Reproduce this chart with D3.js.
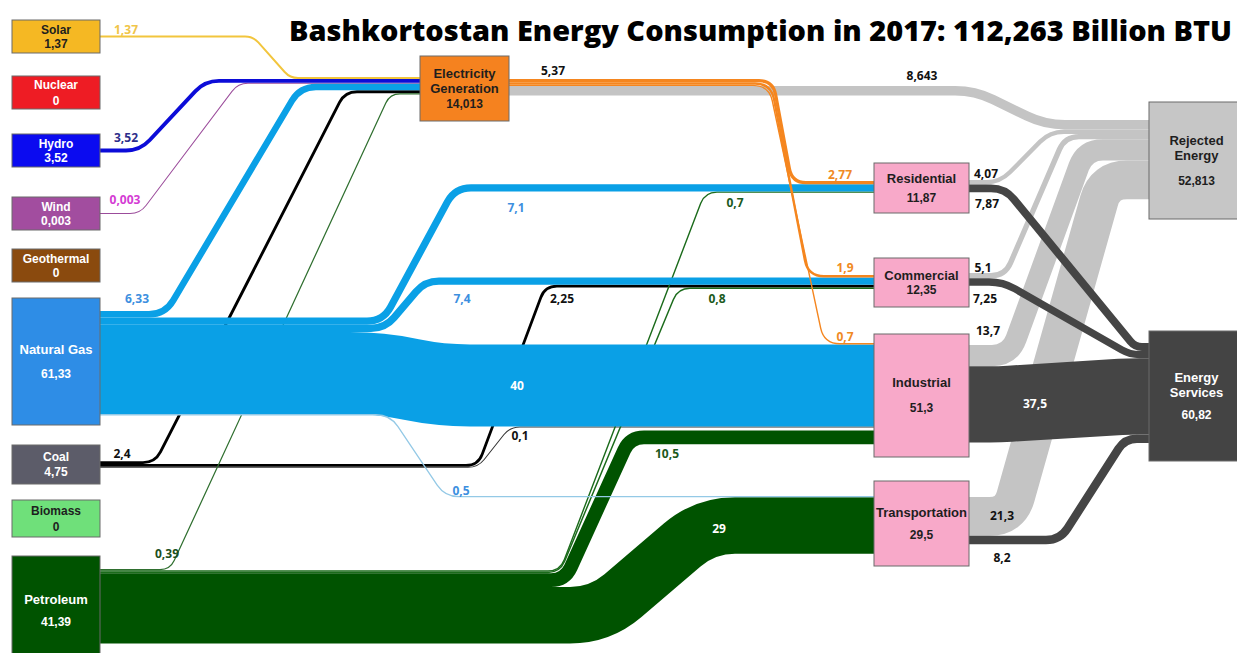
<!DOCTYPE html>
<html>
<head>
<meta charset="utf-8">
<script src="https://cdn.jsdelivr.net/npm/d3@7"></script>
<style>
  html, body { margin: 0; padding: 0; background: #fff; }
  svg { display: block; }
</style>
</head>
<body>
<svg id="chart"></svg>
<script>
// ---------------- data ----------------
const titleText = "Bashkortostan Energy Consumption in 2017: 112,263 Billion BTU";

const nodeIds = ["solar","nuclear","hydro","wind","geo","gas","coal","bio","pet","elec","res","com","ind","trans","rej","serv"];
const nodeNames = ["Solar","Nuclear","Hydro","Wind","Geothermal","Natural Gas","Coal","Biomass","Petroleum",
  "Electricity\nGeneration","Residential","Commercial","Industrial","Transportation","Rejected\nEnergy","Energy\nServices"];
const nodeValues = [1.37,0,3.52,0.003,0,61.33,4.75,0,41.39,14.013,11.87,12.35,51.3,29.5,52.813,60.82];

const linkSources = ["solar","hydro","wind","gas","coal","pet","elec","elec","elec","elec","gas","gas","gas","gas",
  "coal","coal","pet","pet","pet","pet","res","res","com","com","ind","ind","trans","trans"];
const linkTargets = ["elec","elec","elec","elec","elec","elec","res","com","ind","rej","res","com","ind","trans",
  "com","ind","res","com","ind","trans","rej","serv","rej","serv","rej","serv","rej","serv"];
const linkValues = [1.37,3.52,0.003,6.33,2.4,0.39,2.77,1.9,0.7,8.643,7.1,7.4,40,0.5,
  2.25,0.1,0.7,0.8,10.5,29,4.07,7.87,5.1,7.25,13.7,37.5,21.3,8.2];

// ---------------- layout ----------------
var W = 1237, H = 653;

// box placement: [x, y, w, h, gap before value line]
const nodeBox = {
  solar:[12,20,88,33,14], nuclear:[12,76,88,33,16], hydro:[12,134,88,33,14], wind:[12,197,88,33,14],
  geo:[12,249,88,33,14], gas:[12,298,88,127,24], coal:[12,445,88,39,15], bio:[12,500,88,37,16],
  pet:[12,556,88,110,22], elec:[420,56,89,65,15], res:[874,163,95,50,19], com:[874,258,95,49,14],
  ind:[874,334,95,123,25], trans:[874,481,95,85,22], rej:[1149,102,95,117,25], serv:[1149,331,95,130,22]
};
// where stacked link ends start on a box side (offset from top, "c" = centred)
const portOut = {solar:"c", hydro:"c", wind:"c", coal:"c", gas:13, pet:13, elec:23, res:17, com:15, ind:11, trans:16};
const portIn = {elec:21, res:18, com:17, ind:9, trans:15, rej:18, serv:12};

// per link: [bend start x, bend end x, corner radius, gap above at target]
const routes = [
  [253,290,8,0],[140,205,14,0],[140,238,10,0],[165,300,16,0],[155,345,12,0],[170,390,10,0],
  [773,792,14,0],[771,808,16,0],[769,824,16,0],[975,1045,20,0],
  [383,455,16,0],[385,425,14,0],[380,440,30,0],[390,445,14,0],
  [478,545,12,0],[478,510,10,0],[560,705,12,0],[560,678,12,0],[565,630,14,3],[600,705,30,0],
  [1000,1050,14,0],[1005,1135,14,0],[1005,1065,14,0],[1003,1130,14,0],
  [1010,1085,18,0],[1000,1130,10,0],[1010,1105,22,0],[1060,1125,14,0]
];
// value label placement per link: [end, x, dy from port centre]
const labelPos = [
  ["s",126,-3],["s",126,-8.5],["s",125,-9.5],["s",137,-11],["s",122,-4.6],["s",167,-11.6],
  ["t",840,-4],["t",845,-4],["t",845,-2.5],["s",922,-10.75],
  ["t",516,24],["t",462,21.7],["t",517,4.6],["t",461,-2],
  ["t",562,16.4],["t",520,13],["t",735,14.6],["t",717,14.3],["t",667,21],["t",719,7.5],
  ["s",986,-4],["s",987,19.6],["s",983,-4],["s",985,20.8],["s",988,-20.5],["s",1035,4],["s",1002,4],["s",1002,22]
];

// ---------------- styles ----------------
const nodeFill = {solar:"#f5b823", nuclear:"#ee1c24", hydro:"#0b0bf0", wind:"#a24d9f", geo:"#8a4a0e",
  gas:"#2e8de6", coal:"#5c5c69", bio:"#6fe07a", pet:"#005300", elec:"#f5821f", res:"#f8a9c9",
  com:"#f8a9c9", ind:"#f8a9c9", trans:"#f8a9c9", rej:"#c6c6c6", serv:"#444444"};
const darkText = ["solar","bio","elec","res","com","ind","trans","rej"];
const linkColor = ["#f2c53d","#0c0cd8","#9b4c9b","#0aa0e6","#000000","#2f6f2f","#f5861f","#f5861f","#f5861f","#c4c4c4",
  "#0aa0e6","#0aa0e6","#0aa0e6","#94c9e6","#000000","#333333","#1b6b1b","#1b6b1b","#005300","#005300",
  "#c4c4c4","#454545","#c4c4c4","#454545","#c4c4c4","#454545","#c4c4c4","#454545"];
const labelColor = ["#f0c54a","#2e2e8a","#d43cd4","#3d8fdf","#111","#1c4f1c","#f08a24","#f08a24","#f08a24","#111",
  "#3d8fdf","#3d8fdf","#fff","#3d8fdf","#111","#111","#1c5a1c","#1c5a1c","#1c5a1c","#fff",
  "#111","#111","#111","#111","#111","#fff","#111","#111"];
const drawOrder = [9,20,22,24,26,21,23,25,27,4,14,15,5,16,17,18,19,0,2,1,3,10,11,12,13,6,7,8];

// value -> band thickness
var widthScale = d3.scaleLinear().domain([0,1,8,40]).range([1,1.6,8,82]);
var fmt = v => String(v).replace(".", ",");

var svg = d3.select("#chart").attr("width", W).attr("height", H);
svg.append("rect").attr("width", W).attr("height", H).attr("fill", "#fff");

var nodes = nodeIds.map((id, i) => ({id: id, name: nodeNames[i], value: nodeValues[i], box: nodeBox[id]}));
var byId = new Map(nodes.map(n => [n.id, n]));
var links = linkValues.map((v, i) => ({
  i: i, value: v, w: widthScale(v),
  source: byId.get(linkSources[i]), target: byId.get(linkTargets[i])
}));

// stack link ends on each side of every box
function stack(list, n, start, key) {
  if (!list.length) return;
  var total = d3.sum(list, l => l.w + (key == "y1" ? routes[l.i][3] : 0));
  var y = start == "c" ? n.box[1] + n.box[3] / 2 - total / 2 : n.box[1] + start;
  list.forEach(l => {
    if (key == "y1") y += routes[l.i][3];
    l[key] = y + l.w / 2;
    y += l.w;
  });
}
nodes.forEach(n => {
  stack(links.filter(l => l.source === n), n, portOut[n.id], "y0");
  stack(links.filter(l => l.target === n), n, portIn[n.id], "y1");
});

// polyline with rounded corners
function rounded(pts, r) {
  var p = d3.path();
  p.moveTo(pts[0][0], pts[0][1]);
  for (var k = 1; k < pts.length - 1; k++) {
    var a = pts[k - 1], c = pts[k], b = pts[k + 1];
    var la = Math.hypot(a[0] - c[0], a[1] - c[1]), lb = Math.hypot(b[0] - c[0], b[1] - c[1]);
    var rr = Math.min(r, la / 2, lb / 2);
    if (la == 0 || lb == 0) { p.lineTo(c[0], c[1]); continue; }
    p.lineTo(c[0] + (a[0] - c[0]) / la * rr, c[1] + (a[1] - c[1]) / la * rr);
    p.quadraticCurveTo(c[0], c[1], c[0] + (b[0] - c[0]) / lb * rr, c[1] + (b[1] - c[1]) / lb * rr);
  }
  p.lineTo(pts[pts.length - 1][0], pts[pts.length - 1][1]);
  return p.toString();
}

function linkPath(l) {
  var x0 = l.source.box[0] + l.source.box[2], x1 = l.target.box[0];
  var r = routes[l.i];
  return rounded([[x0, l.y0], [r[0], l.y0], [r[1], l.y1], [x1, l.y1]], r[2]);
}

var linkGroup = svg.append("g").attr("class", "links");
linkGroup.selectAll("path")
  .data(drawOrder.map(i => links[i]))
  .join("path")
  .attr("d", linkPath)
  .attr("fill", "none")
  .attr("stroke", l => linkColor[l.i])
  .attr("stroke-width", l => l.w)
  .attr("stroke-linejoin", "round");

// boxes
var nodeGroup = svg.append("g").attr("class", "nodes");
var ng = nodeGroup.selectAll("g").data(nodes).join("g");
ng.append("rect")
  .attr("x", n => n.box[0]).attr("y", n => n.box[1])
  .attr("width", n => n.box[2]).attr("height", n => n.box[3])
  .attr("fill", n => nodeFill[n.id])
  .attr("stroke", "#6a6a6a").attr("stroke-width", 1);

ng.each(function (n) {
  var g = d3.select(this);
  var lines = n.name.split("\n");
  var gap = n.box[4];
  var total = (lines.length - 1) * 15 + gap;
  var cx = n.box[0] + n.box[2] / 2, cy = n.box[1] + n.box[3] / 2;
  var y = cy - total / 2 + 4;
  var col = darkText.includes(n.id) ? "#1e1e1e" : "#ffffff";
  var fam = "'Liberation Sans', Arial, sans-serif";
  var fs = n.box[3] < 60 && n.box[0] < 200 ? "12px" : "13px";
  lines.forEach((t, k) => {
    g.append("text").attr("x", cx).attr("y", y + k * 15)
      .attr("text-anchor", "middle").attr("fill", col)
      .style("font-family", fam).style("font-size", fs).style("font-weight", 700)
      .text(t);
  });
  g.append("text").attr("x", cx).attr("y", y + (lines.length - 1) * 15 + gap)
    .attr("text-anchor", "middle").attr("fill", col)
    .style("font-family", fam).style("font-size", "12px").style("font-weight", 700)
    .text(fmt(n.value));
});

// link value labels
function labelY(l, pos) { return (pos[0] == "s" ? l.y0 : l.y1) + pos[2]; }
var labelGroup = svg.append("g").attr("class", "labels")
  .style("font-family", "'Open Sans', sans-serif").style("font-size", "12px").style("font-weight", 700);
labelGroup.selectAll("text")
  .data(links)
  .join("text")
  .attr("x", l => labelPos[l.i][1])
  .attr("y", l => labelY(l, labelPos[l.i]))
  .attr("text-anchor", "middle")
  .attr("fill", l => labelColor[l.i])
  .text(l => fmt(l.value));

// total leaving the power plants towards the sectors
var elecToSectors = d3.sum(links.filter(l => l.source.id == "elec" && l.target.id != "rej"), l => l.value);
labelGroup.append("text")
  .attr("x", 553).attr("y", links[6].y0 - 5.6)
  .attr("text-anchor", "middle").attr("fill", "#111")
  .text(fmt(Math.round(elecToSectors * 100) / 100));

// title
svg.append("text")
  .attr("x", 289).attr("y", 41)
  .attr("textLength", 943).attr("lengthAdjust", "spacingAndGlyphs")
  .style("font-family", "'Open Sans', sans-serif").style("font-size", "28px").style("font-weight", 800)
  .attr("fill", "#000")
  .text(titleText);
</script>
</body>
</html>
